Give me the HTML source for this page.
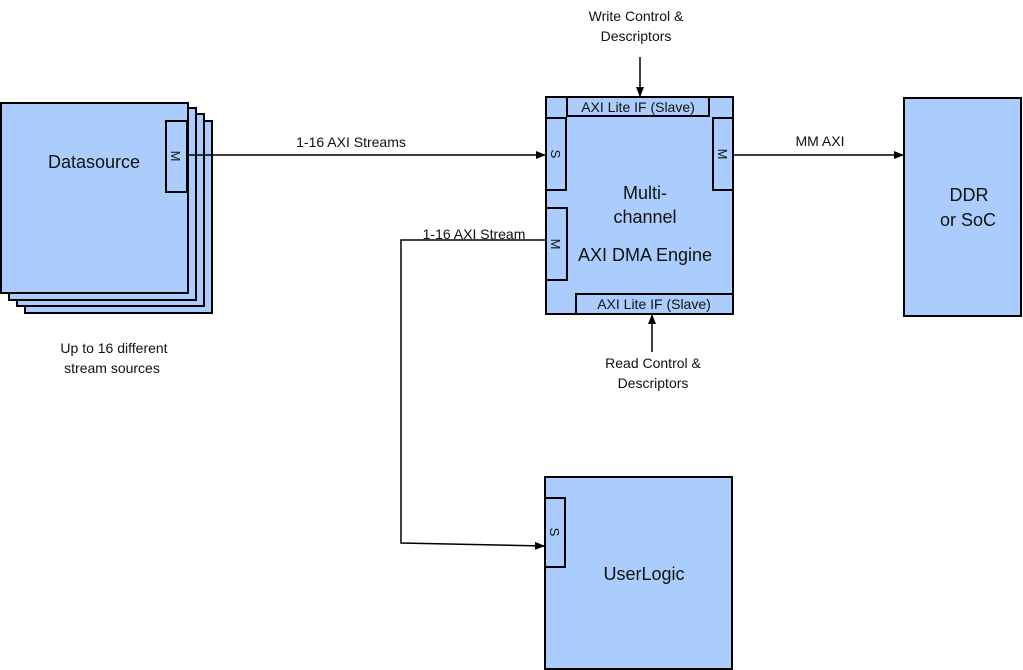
<!DOCTYPE html>
<html><head><style>body{margin:0;background:#fff}svg{display:block}text{font-family:"Liberation Sans",Arial,sans-serif;fill:#111}</style></head>
<body>
<svg width="1023" height="670" viewBox="0 0 1023 670" xmlns="http://www.w3.org/2000/svg">
<defs><marker id="a" markerWidth="10" markerHeight="8" refX="9" refY="4" orient="auto" markerUnits="userSpaceOnUse"><path d="M0,0 L10,4 L0,8 z" fill="#000"/></marker></defs>
<g fill="#abcdfd" stroke="#000" stroke-width="2">
<rect x="25" y="121" width="187" height="192"/>
<rect x="17" y="114" width="187" height="192"/>
<rect x="9" y="108" width="187" height="192"/>
<rect x="1" y="103" width="187" height="190"/>
<rect x="166" y="121" width="21" height="71"/>
<rect x="546" y="97" width="187" height="217"/>
<rect x="567" y="97" width="142" height="19"/>
<rect x="546" y="118" width="20" height="72"/>
<rect x="713" y="118" width="20" height="72"/>
<rect x="546" y="208" width="21" height="72"/>
<rect x="576" y="294" width="157" height="20"/>
<rect x="904" y="98" width="117" height="218"/>
<rect x="545" y="477" width="187" height="192"/>
<rect x="545" y="498" width="20" height="69"/>
</g>
<g stroke="#000" stroke-width="1.5" fill="none">
<line x1="188" y1="155" x2="545" y2="155" marker-end="url(#a)"/>
<line x1="733" y1="155" x2="903" y2="155" marker-end="url(#a)"/>
<polyline points="546,240 401,240 401,543 544,546" marker-end="url(#a)"/>
<line x1="640" y1="57" x2="640" y2="96" marker-end="url(#a)"/>
<line x1="652" y1="352" x2="652" y2="315" marker-end="url(#a)"/>
</g>
<text x="48" y="168" font-size="18">Datasource</text>
<text transform="translate(171,156) rotate(90)" font-size="13" text-anchor="middle">M</text>
<text transform="translate(551,154) rotate(90)" font-size="13" text-anchor="middle">S</text>
<text transform="translate(718,154) rotate(90)" font-size="13" text-anchor="middle">M</text>
<text transform="translate(551,244) rotate(90)" font-size="13" text-anchor="middle">M</text>
<text transform="translate(550,532) rotate(90)" font-size="13" text-anchor="middle">S</text>
<text x="638" y="112" font-size="14" text-anchor="middle">AXI Lite IF (Slave)</text>
<text x="654" y="309" font-size="14" text-anchor="middle">AXI Lite IF (Slave)</text>
<g font-size="18" text-anchor="middle">
<text x="645" y="199">Multi-</text>
<text x="645" y="223">channel</text>
<text x="645" y="261">AXI DMA Engine</text>
<text x="969" y="201">DDR</text>
<text x="968" y="226">or SoC</text>
<text x="644" y="580">UserLogic</text>
</g>
<g font-size="14" text-anchor="middle">
<text x="351" y="147">1-16 AXI Streams</text>
<text x="820" y="146">MM AXI</text>
<text x="474" y="239">1-16 AXI Stream</text>
<text x="636" y="21">Write Control &amp;</text>
<text x="636" y="41">Descriptors</text>
<text x="653" y="368">Read Control &amp;</text>
<text x="653" y="388">Descriptors</text>
<text x="114" y="353">Up to 16 different</text>
<text x="112" y="373">stream sources</text>
</g>
</svg>
</body></html>
